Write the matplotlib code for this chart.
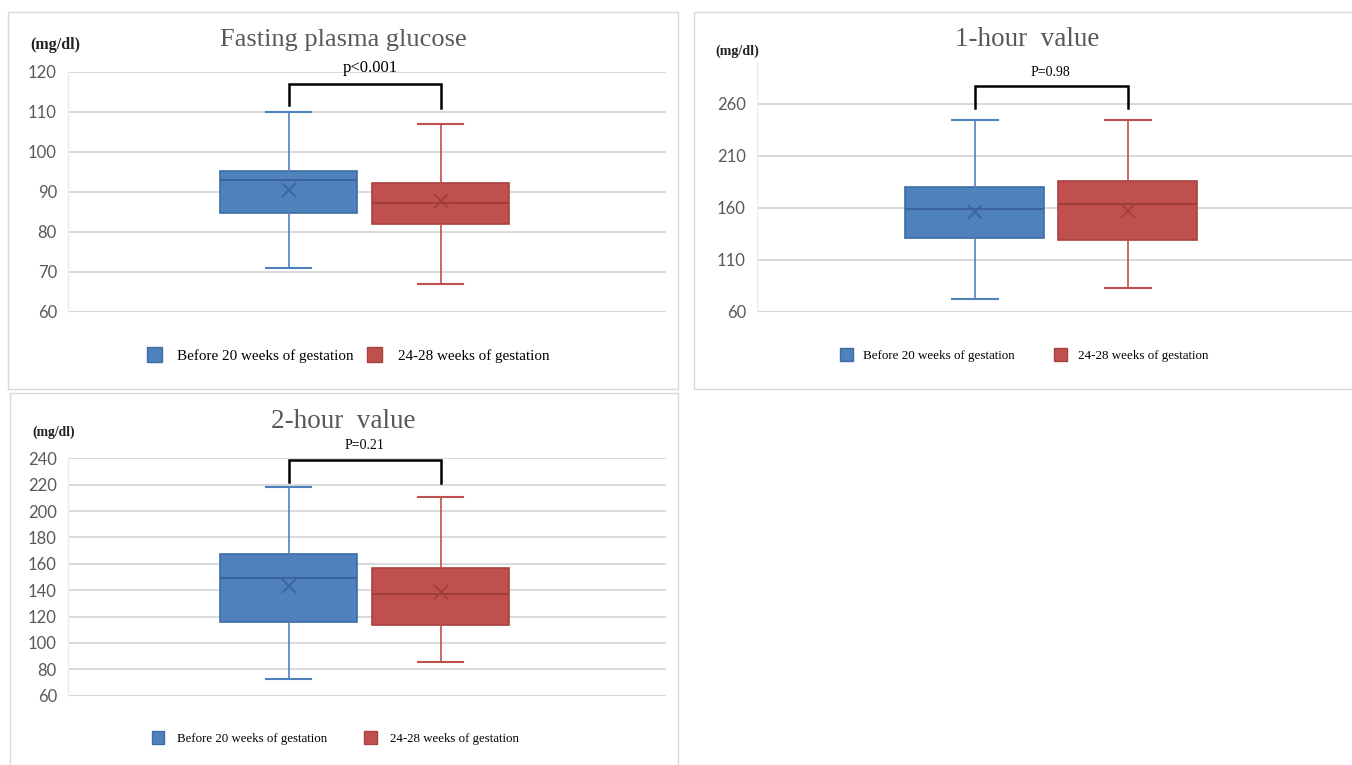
import matplotlib
matplotlib.use("Agg")
import matplotlib.pyplot as plt
from matplotlib.patches import Patch, Rectangle

# ---------------- data ----------------
groups = ["Before 20 weeks of gestation", "24-28 weeks of gestation"]
panel_titles = ["Fasting plasma glucose", "1-hour  value", "2-hour  value"]
p_labels = ["p<0.001", "P=0.98", "P=0.21"]

# [whisker_low, Q1, median, Q3, whisker_high, mean] per group
fpg_before = [71, 84.8, 93.1, 95.2, 110, 90.6]
fpg_after = [67, 82.1, 87.3, 92.2, 107, 87.7]
h1_before = [72.5, 131, 159, 180, 244.5, 156.5]
h1_after = [83, 129, 164, 186, 244.5, 157.0]
h2_before = [73, 115.8, 149.2, 167.3, 218.4, 143]
h2_after = [85.8, 113.3, 137, 157, 210.5, 139]

fpg_ticks = [60, 70, 80, 90, 100, 110, 120]
h1_ticks = [60, 110, 160, 210, 260]
h2_ticks = [60, 80, 100, 120, 140, 160, 180, 200, 220, 240]

# ---------------- style ----------------
W, H = 1352, 765
fig = plt.figure(figsize=(W / 100, H / 100), dpi=100)
fig.patch.set_facecolor("white")

SERIF = ["Liberation Serif", "DejaVu Serif"]
SANS = ["Lato", "DejaVu Sans"]
BLUE_FILL, BLUE_EDGE, BLUE_DARK = "#4F81BD", "#3D6CA6", "#3B649A"
RED_FILL, RED_EDGE, RED_DARK = "#C0504D", "#A8423F", "#9E3D3A"
GRID = "#D9D9D9"
TICKC = "#595959"


def fx(px):
    return px / W


def fy(py):
    return 1 - py / H


# panel frames
for (x0, y0, x1, y1) in [(8, 12, 678, 389), (694, 12, 1356, 389), (10, 393, 678, 770)]:
    fig.add_artist(Rectangle((fx(x0), fy(y1)), fx(x1 - x0), (y1 - y0) / H,
                             transform=fig.transFigure, fill=False,
                             edgecolor="#D9D9D9", lw=1.0))


def make_stats(v):
    return dict(whislo=v[0], q1=v[1], med=v[2], q3=v[3], whishi=v[4], mean=v[5], fliers=[])


def panel(rect, ylim, ticks, before, after, pos, width, bracket, tick_fs):
    ax = fig.add_axes(rect)
    ax.set_xlim(0, 1)
    ax.set_ylim(*ylim)
    ax.set_yticks(ticks)
    ax.yaxis.grid(True, color=GRID, lw=1.4)
    ax.set_axisbelow(True)
    ax.set_xticks([])
    for s in ["top", "right", "bottom"]:
        ax.spines[s].set_visible(False)
    ax.spines["left"].set_color("#EBEBEB")
    ax.spines["left"].set_linewidth(1.0)
    ax.tick_params(axis="y", length=0, labelsize=tick_fs, labelcolor=TICKC, pad=8)
    for lab in ax.get_yticklabels():
        lab.set_family(SANS)
    ax.axhline(ylim[0], color=GRID, lw=1.6)

    for vals, p, fill, edge, dark in [(before, pos[0], BLUE_FILL, BLUE_EDGE, BLUE_DARK),
                                      (after, pos[1], RED_FILL, RED_EDGE, RED_DARK)]:
        ax.bxp([make_stats(vals)], positions=[p], widths=[width], showmeans=True,
               patch_artist=True, showfliers=False,
               boxprops=dict(facecolor=fill, edgecolor=edge, lw=1.2),
               whiskerprops=dict(color=fill, lw=1.2),
               capprops=dict(color=fill, lw=1.5),
               medianprops=dict(color=dark, lw=1.4),
               meanprops=dict(marker="x", markeredgecolor=dark, markersize=10, markeredgewidth=1.2),
               capwidths=[width * 0.33], manage_ticks=False)
    top, legl, legr = bracket
    ax.plot([pos[0], pos[0], pos[1], pos[1]], [legl, top, top, legr],
            color="black", lw=1.8, clip_on=False, solid_joinstyle="miter")
    return ax


ax1 = panel([fx(68), fy(312), fx(666 - 68), (312 - 72) / H], (60, 120), fpg_ticks,
            fpg_before, fpg_after, (0.369, 0.623), 0.229, (117.1, 111.7, 110.9), 12)
ax2 = panel([fx(757), fy(312), fx(1352 - 757), (312 - 62.4) / H], (60, 300), h1_ticks,
            h1_before, h1_after, (0.366, 0.623), 0.233, (277.6, 256, 256), 12)
ax3 = panel([fx(68), fy(695.7), fx(666 - 68), (695.7 - 458.3) / H], (60, 240), h2_ticks,
            h2_before, h2_after, (0.369, 0.623), 0.229, (238.7, 222, 221), 12)

# titles
fig.text(fx(343), fy(40), panel_titles[0], ha="center", va="center",
         family=SERIF, fontsize=19, color=TICKC)
fig.text(fx(1027), fy(40), panel_titles[1], ha="center", va="center",
         family=SERIF, fontsize=19.5, color=TICKC)
fig.text(fx(343), fy(421), panel_titles[2], ha="center", va="center",
         family=SERIF, fontsize=19.5, color=TICKC)

# units
fig.text(fx(30), fy(45), "(mg/dl)", ha="left", va="center", family=SERIF,
         fontsize=11.5, fontweight="bold", color="#222222")
fig.text(fx(715), fy(51), "(mg/dl)", ha="left", va="center", family=SERIF,
         fontsize=10.2, fontweight="bold", color="#222222")
fig.text(fx(32), fy(432), "(mg/dl)", ha="left", va="center", family=SERIF,
         fontsize=9.8, fontweight="bold", color="#222222")

# p-values
fig.text(fx(370), fy(68), p_labels[0], ha="center", va="center", family=SERIF, fontsize=12)
fig.text(fx(1050), fy(72), p_labels[1], ha="center", va="center", family=SERIF, fontsize=10)
fig.text(fx(364), fy(445), p_labels[2], ha="center", va="center", family=SERIF, fontsize=10)

# legends
handles = [Patch(facecolor=BLUE_FILL, edgecolor=BLUE_EDGE, label=groups[0]),
           Patch(facecolor=RED_FILL, edgecolor=RED_EDGE, label=groups[1])]
for ax, cx, cy, fs, cs, tp in [(ax1, 348, 355, 10.9, 0.9, 1.0),
                               (ax2, 1024, 355, 9.4, 3.0, 0.8),
                               (ax3, 335, 738, 9.3, 2.8, 1.0)]:
    ax.legend(handles=handles, loc="center", bbox_to_anchor=(fx(cx), fy(cy)),
              bbox_transform=fig.transFigure, ncol=2, frameon=False,
              prop=dict(family=SERIF, size=fs), handlelength=1.0, handleheight=1.1,
              handletextpad=tp, columnspacing=cs, labelcolor="black")

fig.savefig("out.png", dpi=100)
